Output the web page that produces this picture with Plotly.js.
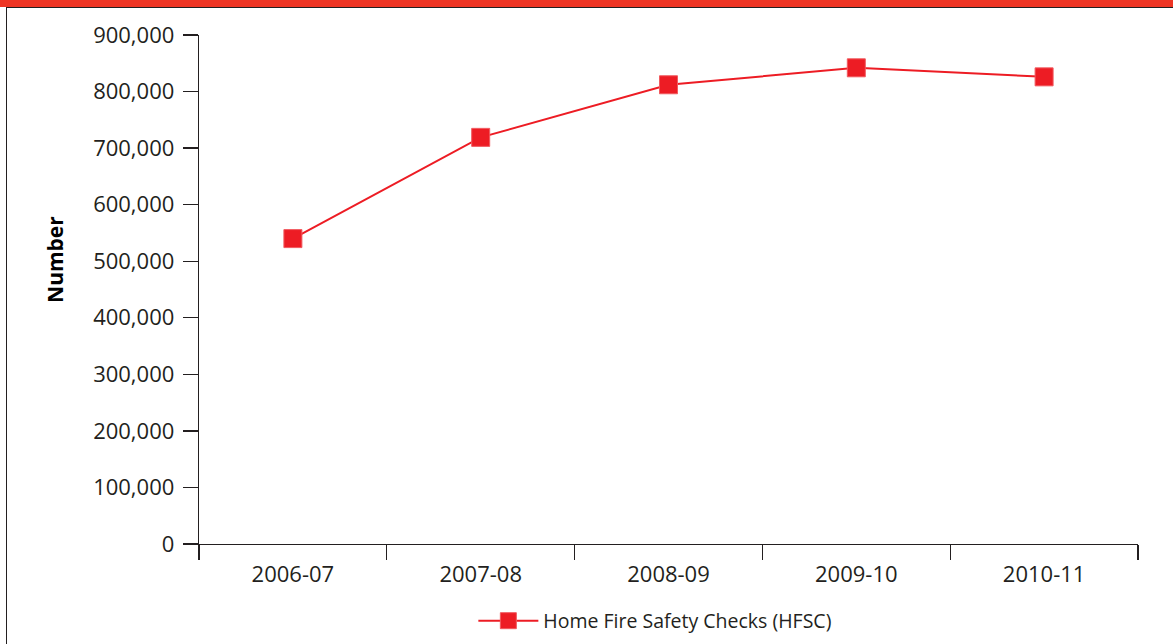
<!DOCTYPE html>
<html>
<head>
<meta charset="utf-8">
<script src="https://cdn.plot.ly/plotly-3.0.1.min.js"></script>
<style>
  html, body { margin: 0; padding: 0; background: #ffffff; }
  #wrap { position: relative; width: 1173px; height: 644px; overflow: hidden; background: #ffffff; }
  #chart { position: absolute; left: 0; top: 0; width: 1173px; height: 644px; }
  #topbar { position: absolute; left: 0; top: 0; width: 1173px; height: 7px; background: #ee3524; z-index: 5; }
  #topline { position: absolute; left: 6px; top: 7px; width: 1167px; height: 1px; background: #231f20; z-index: 5; }
  #leftline { position: absolute; left: 6px; top: 7px; width: 1px; height: 637px; background: #231f20; z-index: 5; }
</style>
</head>
<body>
<div id="wrap">
  <div id="chart"></div>
  <div id="topbar"></div>
  <div id="topline"></div>
  <div id="leftline"></div>
</div>
<script>
const categories = ["2006-07", "2007-08", "2008-09", "2009-10", "2010-11"];
const hfscValues = [540000, 719000, 812000, 842000, 826000];
const seriesName = "Home Fire Safety Checks (HFSC)";
const yTickValues = [0, 100000, 200000, 300000, 400000, 500000, 600000, 700000, 800000, 900000];
const yTickLabels = ["0", "100,000", "200,000", "300,000", "400,000", "500,000", "600,000", "700,000", "800,000", "900,000"];
const yAxisTitle = "Number";

const red = "#ed1c24";
const ink = "#231f20";
const fontFamily = "'Open Sans', 'Noto Sans', sans-serif";

const trace = {
  type: "scatter",
  mode: "lines+markers",
  x: categories,
  y: hfscValues,
  name: seriesName,
  line: { color: red, width: 2 },
  marker: { symbol: "square", size: 18, color: red, line: { color: "#f15a5f", width: 1 } },
  showlegend: true
};

const layout = {
  width: 1173,
  height: 644,
  margin: { l: 199, r: 35, t: 35, b: 100 },
  paper_bgcolor: "rgba(0,0,0,0)",
  plot_bgcolor: "rgba(0,0,0,0)",
  font: { family: fontFamily, color: ink, size: 20 },
  showlegend: true,
  legend: {
    orientation: "h",
    xref: "paper",
    x: 0.486,
    xanchor: "center",
    yref: "container",
    y: 0.0357,
    yanchor: "middle",
    font: { family: fontFamily, size: 19.5, color: ink },
    itemwidth: 60,
    bgcolor: "rgba(0,0,0,0)"
  },
  xaxis: {
    type: "category",
    range: [-0.5, 4.5],
    autorange: false,
    automargin: false,
    tickson: "boundaries",
    ticks: "outside",
    ticklen: 15,
    tickwidth: 1.3,
    tickcolor: ink,
    showline: true,
    linecolor: ink,
    linewidth: 1.3,
    showgrid: false,
    zeroline: false,
    ticklabelstandoff: 10,
    tickfont: { family: fontFamily, size: 22, color: ink },
    fixedrange: true
  },
  yaxis: {
    range: [0, 900000],
    autorange: false,
    automargin: false,
    tickmode: "array",
    tickvals: yTickValues,
    ticktext: yTickLabels,
    ticks: "outside",
    ticklen: 15,
    tickwidth: 1.3,
    tickcolor: ink,
    showline: true,
    linecolor: ink,
    linewidth: 1.3,
    showgrid: false,
    zeroline: false,
    ticklabelstandoff: 4,
    tickfont: { family: fontFamily, size: 22, color: ink },
    fixedrange: true
  },
  annotations: [{
    text: "<b>" + yAxisTitle + "</b>",
    xref: "paper",
    yref: "paper",
    x: -0.1534,
    y: 0.56,
    xanchor: "center",
    yanchor: "middle",
    textangle: -90,
    showarrow: false,
    font: { family: fontFamily, size: 21, color: "#000000" }
  }]
};

Plotly.newPlot("chart", [trace], layout, { displayModeBar: false, staticPlot: true });
</script>
</body>
</html>
